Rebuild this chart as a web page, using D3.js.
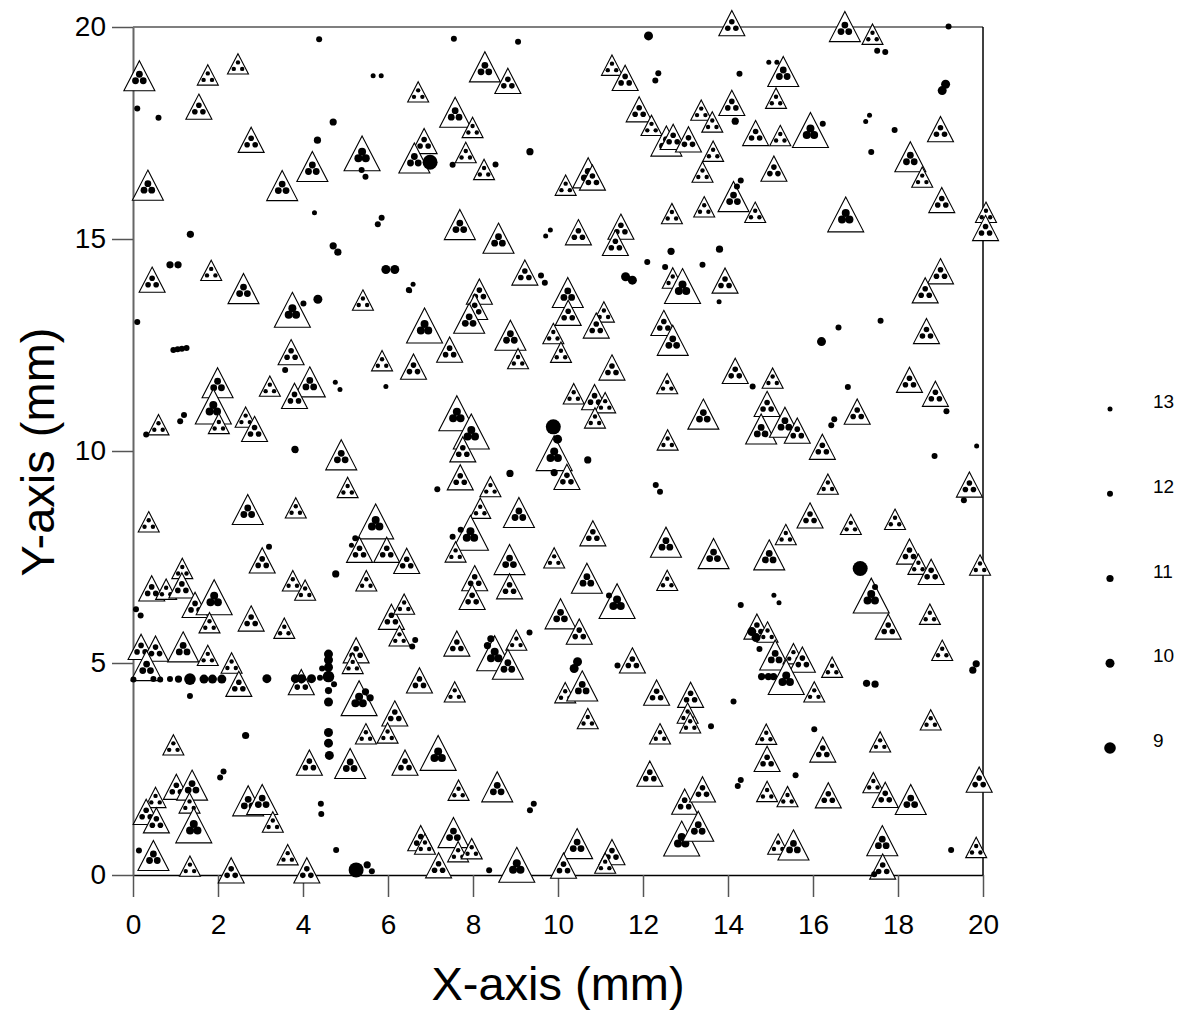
<!DOCTYPE html>
<html>
<head>
<meta charset="utf-8">
<script src="https://cdn.jsdelivr.net/npm/d3@7"></script>
<style>
  body { margin: 0; background: #fff; }
  svg { display: block; font-family: "Liberation Sans", Arial, sans-serif; }
</style>
</head>
<body>
<div id="chart"></div>
<script>
// tick values
var xTicks = [0, 2, 4, 6, 8, 10, 12, 14, 16, 18, 20];
var yTicks = [0, 5, 10, 15, 20];
var legendSizes = [13, 12, 11, 10, 9];

// triangle clusters: [x mm, y mm, size class 1-4]
var clusters = [
  [0.15,18.85,3],[1.76,18.87,1],[2.47,19.13,1],[1.55,18.12,2],[2.78,17.34,2],[0.35,16.27,3],[3.51,16.26,3],[4.22,16.71,3],[5.39,17.02,4],[0.45,14.04,2],[1.84,14.26,1],[2.60,13.83,3],[3.75,13.33,4],[5.41,13.56,1],[3.72,12.33,2],[5.86,12.13,1],[1.99,11.61,3],[3.22,11.53,1],[4.16,11.63,3],[3.80,11.30,2],[1.89,11.05,4],[2.02,10.65,1],[2.65,10.80,1],[2.86,10.52,2],[0.60,10.62,1],
  [6.71,18.47,1],[8.28,19.06,3],[8.82,18.73,2],[7.58,17.99,3],[7.99,17.63,1],[6.85,17.31,2],[6.62,16.91,3],[7.83,17.04,1],[8.26,16.64,1],[10.18,16.27,1],[10.71,16.56,3],[10.81,16.45,2],[11.27,19.10,1],[11.58,18.80,2],[11.91,18.06,2],[12.20,17.68,1],[12.55,17.31,3],[12.71,17.41,2],[13.07,17.35,2],[12.68,15.60,1],[7.69,15.34,3],[8.60,15.02,3],[10.48,15.16,2],[11.48,15.29,2],[11.35,14.91,2],[9.22,14.21,2],[10.23,13.74,3],[12.70,14.08,1],[12.93,13.89,4],[8.15,13.76,2],[8.04,13.40,2],[7.91,13.13,3],[6.86,12.96,4],[7.45,12.39,2],[6.60,11.99,2],[8.88,12.73,3],[9.06,12.18,1],[10.24,13.26,2],[9.89,12.77,1],[10.07,12.33,1],[11.08,13.28,1],[10.90,12.96,2],[12.49,13.02,2],[12.70,12.61,3],[11.27,11.97,2],[12.57,11.59,1],[10.37,11.35,1],[10.86,11.27,2],[11.11,11.14,1],[10.87,10.78,1],[7.62,10.89,4],[7.96,10.46,4],
  [14.09,20.09,2],[16.75,20.01,3],[17.40,19.83,1],[15.30,18.95,3],[15.13,18.32,1],[13.37,18.04,1],[13.63,17.76,1],[14.09,18.21,2],[14.65,17.50,2],[15.23,17.44,1],[15.94,17.57,4],[13.65,17.07,1],[13.40,16.58,1],[15.08,16.66,2],[14.13,16.00,3],[13.44,15.76,1],[14.64,15.63,1],[16.77,15.58,4],[18.29,16.94,3],[18.57,16.46,1],[19.00,17.59,2],[19.03,15.92,2],[20.07,15.63,1],[20.06,15.26,2],[13.93,14.02,2],[19.00,14.24,2],[18.64,13.79,2],[18.67,12.83,2],[14.17,11.89,2],[15.05,11.72,1],[18.27,11.68,2],[18.88,11.35,2],[17.04,10.93,2],[13.42,10.87,3],[14.92,11.11,2],[14.78,10.52,3],[15.34,10.68,3],[15.63,10.48,2],
  [4.90,9.91,3],[5.05,9.14,1],[0.37,8.33,1],[2.70,8.62,3],[3.83,8.66,1],[5.71,8.34,4],[5.33,7.67,2],[5.97,7.67,2],[3.04,7.42,2],[3.76,6.94,1],[4.05,6.72,1],[5.49,6.94,1],[0.44,6.76,2],[0.78,6.74,1],[1.16,7.23,1],[1.15,6.83,2],[1.46,6.37,2],[1.91,6.55,4],[1.80,5.95,1],[2.78,6.05,2],[3.56,5.82,1],[6.08,6.09,2],[6.38,6.39,1],[6.27,5.64,1],[0.19,5.38,2],[0.53,5.34,2],[1.18,5.38,3],[1.76,5.18,1],[0.32,4.94,3],[2.32,5.00,1],[2.49,4.51,2],[3.96,4.55,2],[5.25,5.30,2],[5.17,4.99,1],[5.32,4.17,4],[6.16,3.81,2],[5.48,3.33,1],[5.99,3.35,1],[0.95,3.07,1],[4.15,2.65,2],[5.11,2.63,3],[1.02,2.08,2],[1.39,2.12,3],[0.53,1.83,1],[0.31,1.49,2],[1.33,1.70,1],[0.55,1.29,2],[1.43,1.17,4],[2.71,1.75,3],[3.04,1.78,3],[3.29,1.25,1],[0.48,0.46,3],[1.34,0.21,1],[2.31,0.11,2],[3.64,0.48,1],[4.09,0.11,2],
  [7.76,10.04,2],[9.91,9.95,4],[12.58,10.26,1],[7.70,9.38,2],[8.41,9.16,1],[10.21,9.39,2],[8.17,8.65,1],[9.08,8.55,3],[7.94,8.07,4],[7.59,7.62,1],[10.82,8.06,2],[12.54,7.85,3],[6.44,7.41,2],[8.86,7.44,3],[9.91,7.48,1],[8.04,7.00,2],[7.98,6.56,2],[8.86,6.81,2],[10.68,7.00,3],[12.57,6.95,1],[11.39,6.46,4],[10.06,6.16,3],[10.50,5.74,2],[7.62,5.46,2],[8.51,5.23,4],[9.02,5.54,1],[8.82,4.97,3],[6.74,4.59,2],[7.57,4.32,1],[10.17,4.30,1],[10.57,4.46,3],[10.70,3.69,1],[11.75,5.06,2],[12.32,4.30,2],[13.12,4.25,2],[13.05,3.82,1],[13.11,3.59,1],[12.40,3.33,1],[6.40,2.65,2],[7.18,2.88,4],[7.66,2.00,1],[8.57,2.08,3],[12.16,2.39,2],[12.98,1.73,2],[12.91,0.86,4],[6.77,0.87,2],[6.87,0.73,1],[7.54,1.00,3],[7.65,0.55,1],[7.97,0.62,1],[7.19,0.23,2],[9.03,0.24,4],[10.45,0.74,3],[10.13,0.22,2],[11.27,0.54,2],[11.11,0.28,1],
  [16.22,10.10,2],[16.35,9.22,1],[19.68,9.21,2],[15.93,8.48,2],[16.89,8.27,1],[15.36,8.03,1],[17.93,8.39,1],[13.66,7.58,3],[14.97,7.55,3],[18.27,7.63,2],[18.48,7.33,1],[18.78,7.15,2],[19.93,7.31,1],[17.37,6.59,4],[17.77,5.86,2],[18.75,6.15,1],[19.04,5.30,1],[14.68,5.86,2],[14.93,5.73,1],[15.11,5.19,3],[15.54,5.22,1],[15.75,5.08,2],[15.37,4.67,4],[16.45,4.90,1],[16.03,4.32,1],[18.77,3.66,1],[14.90,3.32,1],[14.92,2.74,2],[16.23,2.96,2],[17.58,3.14,1],[13.40,2.02,2],[13.30,1.15,3],[14.92,1.97,1],[15.40,1.85,1],[16.36,1.88,2],[17.42,2.18,1],[17.70,1.89,2],[18.30,1.78,3],[19.91,2.25,2],[15.18,0.73,1],[15.54,0.71,3],[17.63,0.81,3],[17.64,0.20,2],[19.84,0.65,1]
];

// single particles: [x mm, y mm, size label]
var particles = [
  [4.38,19.71,12],[5.65,18.85,13],[5.84,18.85,13],[0.10,18.08,12],[0.60,17.86,12],[4.71,17.76,11],[4.34,17.33,11],[5.38,16.63,12],[5.47,16.47,12],[4.27,15.62,13],[5.85,15.50,12],[5.76,15.35,12],[1.35,15.11,11],[4.71,14.84,11],[4.82,14.69,11],[0.87,14.39,11],[1.06,14.39,11],[5.95,14.28,10],[6.16,14.28,10],[4.01,13.48,12],[4.35,13.58,10],[6.49,13.80,12],[0.10,13.04,12],[0.95,12.38,12],[1.05,12.40,12],[1.15,12.41,12],[1.26,12.43,12],[3.58,11.91,12],[4.76,11.62,13],[4.87,11.45,13],[5.95,11.52,13],[1.20,10.85,12],[1.11,10.70,12],[0.31,10.39,12],[3.81,10.04,11],
  [7.55,19.72,12],[9.06,19.65,12],[12.13,19.79,10],[12.36,18.91,12],[12.29,18.74,12],[6.99,16.81,8],[7.52,16.75,12],[8.53,16.76,12],[9.34,17.06,11],[9.82,15.21,13],[9.71,15.07,13],[12.66,14.71,11],[12.10,14.46,12],[12.52,14.34,12],[11.59,14.11,10],[11.75,14.03,10],[9.60,14.14,12],[9.69,13.97,12],[6.59,13.93,13],[6.51,13.78,13],[9.89,10.57,8],[9.99,10.28,10],
  [19.19,20.01,12],[17.51,19.44,12],[17.70,19.41,12],[14.96,19.17,13],[15.15,19.17,13],[14.27,18.90,12],[19.12,18.65,10],[19.04,18.50,10],[14.17,17.78,11],[16.23,17.72,12],[17.33,17.92,13],[17.24,17.77,13],[17.92,17.57,12],[17.37,17.05,12],[14.30,16.38,12],[14.21,16.24,12],[13.80,14.76,11],[13.40,14.39,12],[13.79,13.52,13],[16.20,12.58,10],[16.60,12.91,12],[17.59,13.07,12],[14.58,11.52,12],[16.82,11.51,12],[19.14,10.94,12],[16.50,10.75,12],[16.43,10.61,12],[19.85,10.12,13],
  [3.82,10.02,12],[3.20,7.74,12],[5.23,7.94,12],[5.14,7.78,13],[4.77,7.10,11],[0.07,6.27,12],[0.18,6.12,12],[0.01,4.61,12],[0.48,4.62,12],[0.64,4.61,12],[0.87,4.62,12],[1.07,4.62,11],[1.34,4.62,9],[1.67,4.62,10],[1.87,4.62,10],[2.09,4.62,10],[1.34,4.22,12],[3.15,4.63,10],[3.82,4.63,10],[3.97,4.63,10],[4.20,4.63,10],[4.45,4.87,12],[4.40,4.65,12],[4.59,4.66,10],[4.60,5.21,10],[4.60,5.07,10],[4.60,4.90,10],[4.60,4.68,9],[4.73,4.50,12],[4.60,4.35,11],[4.60,4.08,10],[4.60,3.36,10],[4.60,3.11,10],[4.62,2.82,10],[2.65,3.29,11],[2.13,2.44,12],[2.05,2.30,12],[4.42,1.68,12],[4.43,1.44,12],[4.78,0.59,12],[0.14,0.58,12],[5.25,0.12,8],[5.51,0.24,11],[5.62,0.09,12],[5.47,4.32,11],[5.58,4.18,11],
  [10.70,9.79,11],[7.16,9.10,12],[8.87,9.47,11],[12.30,9.20,12],[12.40,9.04,12],[7.52,7.98,12],[7.71,8.14,12],[9.91,9.49,11],[6.64,5.54,12],[6.57,5.39,12],[9.33,5.72,12],[8.42,5.57,11],[8.34,5.41,11],[10.46,5.03,10],[10.38,4.87,10],[11.40,4.94,12],[11.20,6.59,12],[9.43,1.68,12],[9.34,1.53,12],[8.38,0.11,12],
  [17.11,7.23,8],[18.86,9.88,12],[19.55,8.84,12],[14.30,6.37,12],[15.08,6.60,13],[15.20,6.42,13],[14.56,5.74,10],[14.66,5.60,10],[14.74,5.33,12],[14.79,4.68,11],[14.95,4.68,11],[15.07,4.68,11],[17.26,4.52,11],[17.46,4.50,11],[19.84,4.98,11],[19.76,4.83,11],[14.13,4.09,12],[13.60,3.51,12],[16.03,3.44,12],[15.59,2.35,12],[14.30,2.24,12],[14.23,2.10,12],[19.25,0.59,12],[17.44,0.02,12],[17.46,6.79,12]
];

var width = 1184, height = 1011;

var svg = d3.select("#chart").append("svg")
    .attr("width", width)
    .attr("height", height);

var x = d3.scaleLinear().domain([0, 20]).range([133, 983]);
var y = d3.scaleLinear().domain([0, 20]).range([875, 27]);

// glyph sizes
var triWidth = d3.scaleLinear().domain([1, 4]).range([21, 36]);
var innerR = d3.scaleLinear().domain([1, 4]).range([2.2, 4.0]);
var dotR = d3.scaleOrdinal().domain([8, 9, 10, 11, 12, 13]).range([7.5, 5.8, 4.5, 3.6, 3.0, 2.5]);

// frame lines (top, right)
svg.append("line")
    .attr("x1", x(0)).attr("x2", x(20)).attr("y1", y(20)).attr("y2", y(20))
    .attr("stroke", "#555").attr("stroke-width", 1.5);
svg.append("line")
    .attr("x1", x(20)).attr("x2", x(20)).attr("y1", y(20)).attr("y2", y(0))
    .attr("stroke", "#000").attr("stroke-width", 1.5);

// axes
var xAxis = svg.append("g")
    .attr("transform", "translate(0," + y(0) + ")")
    .call(d3.axisBottom(x).tickValues(xTicks).tickFormat(d3.format("d"))
        .tickSize(22).tickSizeOuter(0).tickPadding(17));
var yAxis = svg.append("g")
    .attr("transform", "translate(" + x(0) + ",0)")
    .call(d3.axisLeft(y).tickValues(yTicks).tickFormat(d3.format("d"))
        .tickSize(21).tickSizeOuter(0).tickPadding(6));

[xAxis, yAxis].forEach(g => {
    g.select(".domain").attr("stroke", "#000").attr("stroke-width", 1.5);
    g.selectAll(".tick line").attr("stroke", "#555").attr("stroke-width", 1.5);
    g.selectAll(".tick text")
        .attr("fill", "#000")
        .style("font-family", "'Liberation Sans', Arial, sans-serif")
        .style("font-size", "28px");
});
yAxis.select(".domain").attr("stroke", "#666").attr("stroke-width", 2);

// triangle clusters
var tri = svg.append("g").selectAll("g.cluster")
    .data(clusters)
    .enter()
    .append("g")
    .attr("class", "cluster")
    .attr("transform", d => "translate(" + x(d[0]) + "," + y(d[1]) + ")");

tri.append("path")
    .attr("d", d => {
        var w = triWidth(d[2]), h = w * 0.97;
        return "M0," + (-h / 2) + "L" + (w / 2) + "," + (h / 2) + "L" + (-w / 2) + "," + (h / 2) + "Z";
    })
    .attr("fill", "#fff")
    .attr("stroke", "#000")
    .attr("stroke-width", 1.1);

tri.selectAll("circle")
    .data(d => [[0, -1.5, d[2]], [-4.2, 5, d[2]], [4.2, 5, d[2]]])
    .enter()
    .append("circle")
    .attr("cx", d => d[0] * (1 - (d[2] - 1) * 0.04))
    .attr("cy", d => d[1])
    .attr("r", d => innerR(d[2]))
    .attr("fill", "#000");

// single particles
svg.append("g").selectAll("circle")
    .data(particles)
    .enter()
    .append("circle")
    .attr("cx", d => x(d[0]))
    .attr("cy", d => y(d[1]))
    .attr("r", d => dotR(d[2]))
    .attr("fill", "#000");

// legend
var legendY = d3.scalePoint().domain(legendSizes).range([409, 748]);
var legend = svg.append("g").selectAll("g")
    .data(legendSizes)
    .enter()
    .append("g")
    .attr("transform", d => "translate(1110," + legendY(d) + ")");
legend.append("circle")
    .attr("r", d => dotR(d))
    .attr("fill", "#000");
legend.append("text")
    .attr("x", 43)
    .attr("y", -1)
    .style("font-size", "19px")
    .text(d => d);

// axis titles
svg.append("text")
    .attr("x", 558)
    .attr("y", 1000)
    .attr("text-anchor", "middle")
    .style("font-size", "47px")
    .text("X-axis (mm)");
svg.append("text")
    .attr("transform", "translate(54,452) rotate(-90)")
    .attr("text-anchor", "middle")
    .style("font-size", "47px")
    .text("Y-axis (mm)");
</script>
</body>
</html>
